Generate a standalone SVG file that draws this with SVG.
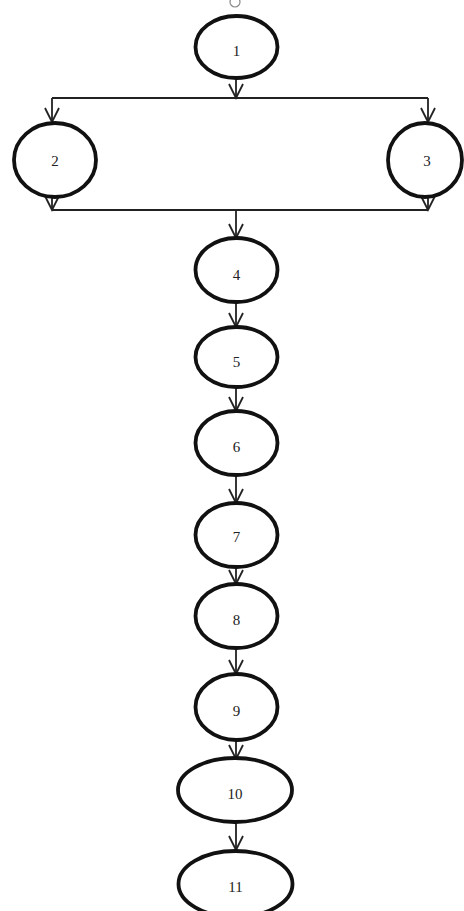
<svg xmlns="http://www.w3.org/2000/svg" width="464" height="911" viewBox="0 0 464 911">
<style>
.n{fill:#fff;stroke:#111;stroke-width:3.8}
.t{font-family:"Liberation Serif","Times New Roman",serif;font-size:15px;fill:#222;text-anchor:middle;dominant-baseline:central}
.c{fill:none;stroke:#222;stroke-width:1.8}
</style>
<defs>
<marker id="v" markerUnits="userSpaceOnUse" viewBox="-16 -9 18 18" refX="0" refY="0" markerWidth="18" markerHeight="18" orient="auto">
<path d="M-14,-7 L0,0 L-14,7" fill="none" stroke="#222" stroke-width="1.8"/>
</marker>
</defs>
<circle cx="235" cy="2" r="5" fill="none" stroke="#888" stroke-width="1.2"/>
<g id="connectors">
<line class="c" x1="236" y1="79" x2="236" y2="98" marker-end="url(#v)"/>
<line class="c" x1="52" y1="98" x2="428" y2="98"/>
<line class="c" x1="52" y1="98" x2="52" y2="122" marker-end="url(#v)"/>
<line class="c" x1="428" y1="98" x2="428" y2="122" marker-end="url(#v)"/>
<line class="c" x1="52" y1="198" x2="52" y2="210" marker-end="url(#v)"/>
<line class="c" x1="428" y1="198" x2="428" y2="210" marker-end="url(#v)"/>
<line class="c" x1="52" y1="210" x2="428" y2="210"/>
<line class="c" x1="236" y1="210" x2="236" y2="238" marker-end="url(#v)"/>
<line class="c" x1="236" y1="302" x2="236" y2="327" marker-end="url(#v)"/>
<line class="c" x1="236" y1="387" x2="236" y2="411" marker-end="url(#v)"/>
<line class="c" x1="236" y1="475" x2="236" y2="503" marker-end="url(#v)"/>
<line class="c" x1="236" y1="567" x2="236" y2="584" marker-end="url(#v)"/>
<line class="c" x1="236" y1="648" x2="236" y2="674" marker-end="url(#v)"/>
<line class="c" x1="236" y1="740" x2="236" y2="759" marker-end="url(#v)"/>
<line class="c" x1="236" y1="823" x2="236" y2="850" marker-end="url(#v)"/>
</g>
<g id="n1"><ellipse class="n" cx="236.5" cy="47" rx="41" ry="31"/><text class="t" x="236.5" y="51">1</text></g>
<g id="n2"><ellipse class="n" cx="55" cy="160" rx="41" ry="37"/><text class="t" x="55" y="161">2</text></g>
<g id="n3"><ellipse class="n" cx="425" cy="160" rx="37" ry="37"/><text class="t" x="427" y="161">3</text></g>
<g id="n4"><ellipse class="n" cx="236.5" cy="270" rx="41" ry="32"/><text class="t" x="236.5" y="275">4</text></g>
<g id="n5"><ellipse class="n" cx="236.5" cy="357" rx="41" ry="30"/><text class="t" x="236.5" y="362">5</text></g>
<g id="n6"><ellipse class="n" cx="236.5" cy="443" rx="41" ry="32"/><text class="t" x="236.5" y="447">6</text></g>
<g id="n7"><ellipse class="n" cx="236.5" cy="535" rx="41" ry="32"/><text class="t" x="236.5" y="537">7</text></g>
<g id="n8"><ellipse class="n" cx="236.5" cy="616" rx="41" ry="32"/><text class="t" x="236.5" y="620">8</text></g>
<g id="n9"><ellipse class="n" cx="236.5" cy="707" rx="41" ry="33"/><text class="t" x="236.5" y="711">9</text></g>
<g id="n10"><ellipse class="n" cx="235" cy="790" rx="57" ry="32"/><text class="t" x="235" y="794">10</text></g>
<g id="n11"><ellipse class="n" cx="235.5" cy="884" rx="57" ry="33"/><text class="t" x="235.5" y="887">11</text></g>
</svg>
